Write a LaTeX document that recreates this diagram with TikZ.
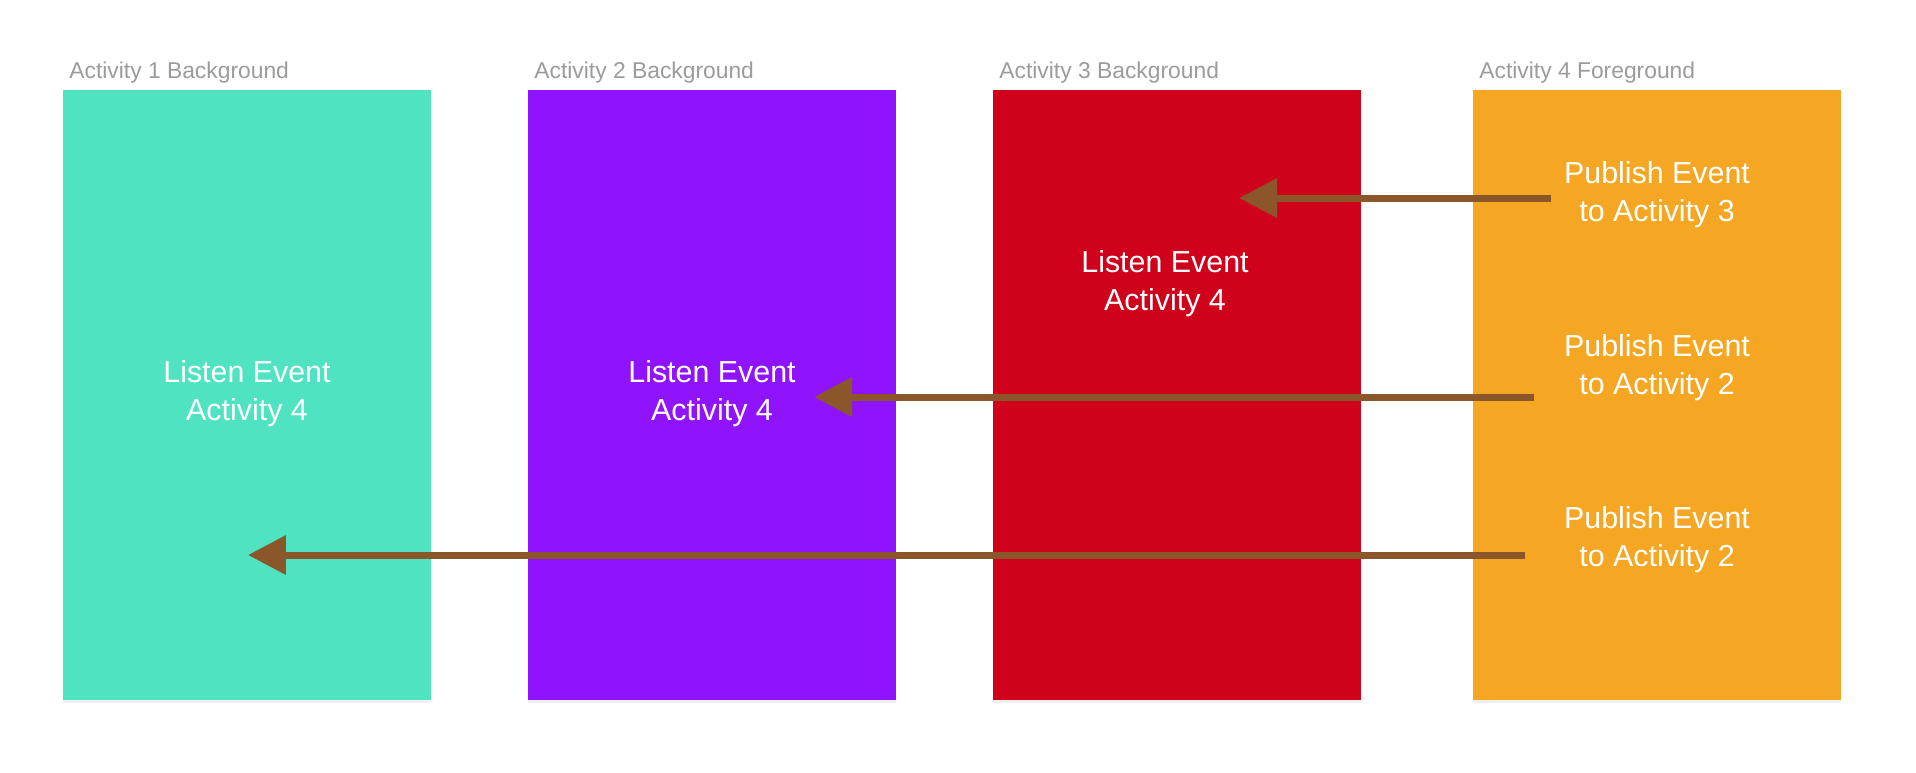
\documentclass[tikz,border=0pt]{standalone}
\usepackage{fontspec}
\setmainfont{Liberation Sans}
\usetikzlibrary{arrows.meta, positioning, shadows}

\definecolor{tealA}{HTML}{50E3C2}
\definecolor{purpleA}{HTML}{9013FE}
\definecolor{redA}{HTML}{D0021B}
\definecolor{orangeA}{HTML}{F5A623}
\definecolor{titlegray}{HTML}{9B9B9B}
\definecolor{eventbrown}{HTML}{8B572A}

\tikzset{
  screen/.style={anchor=north west, inner sep=0pt, minimum width=7.36cm,
    minimum height=12.2cm, fill=#1,
    drop shadow={opacity=0.12, shadow xshift=0pt, shadow yshift=-1.5pt}},
  screentitle/.style={anchor=base west, inner sep=0pt, text=titlegray,
    font=\fontsize{13}{15}\selectfont},
  eventtext/.style={align=center, text=white, inner sep=0pt,
    font=\fontsize{17.3}{21.5}\selectfont},
  eventarrow/.style={draw=eventbrown, line width=0.14cm,
    -{Triangle[length=0.76cm, width=0.76cm]}}
}

\begin{document}
\begin{tikzpicture}[x=0.02cm, y=-0.02cm]
\useasboundingbox (0,0) rectangle (1916,772);

% screens
\node[screen=tealA]   (act1) at (63,90)   {};
\node[screen=purpleA] (act2) at (528,90)  {};
\node[screen=redA]    (act3) at (993,90)  {};
\node[screen=orangeA] (act4) at (1473,90) {};

% titles
\node[screentitle] (title1) at (69,78)   {Activity 1 Background};
\node[screentitle] (title2) at (534,78)  {Activity 2 Background};
\node[screentitle] (title3) at (999,78)  {Activity 3 Background};
\node[screentitle] (title4) at (1479,78) {Activity 4 Foreground};

% listeners
\node[eventtext] (listen1) at (247,394)  {Listen Event\\Activity 4};
\node[eventtext] (listen2) at (712,394)  {Listen Event\\Activity 4};
\node[eventtext] (listen3) at (1165,284) {Listen Event\\Activity 4};

% publishers
\node[eventtext] (pub3)  at (1657,195) {Publish Event\\to Activity 3};
\node[eventtext] (pub2)  at (1657,368) {Publish Event\\to Activity 2};
\node[eventtext] (pub2b) at (1657,540) {Publish Event\\to Activity 2};

% arrow ends
\coordinate (tail3) at (1551,198);
\coordinate (head3) at (1239,198);
\coordinate (tail2) at (1534,397);
\coordinate (head2) at (814,397);
\coordinate (tail1) at (1525,555);
\coordinate (head1) at (248,555);

\draw[eventarrow] (tail3) -- (head3); % to activity 3
\draw[eventarrow] (tail2) -- (head2); % to activity 2
\draw[eventarrow] (tail1) -- (head1); % to activity 1
\end{tikzpicture}
\end{document}
